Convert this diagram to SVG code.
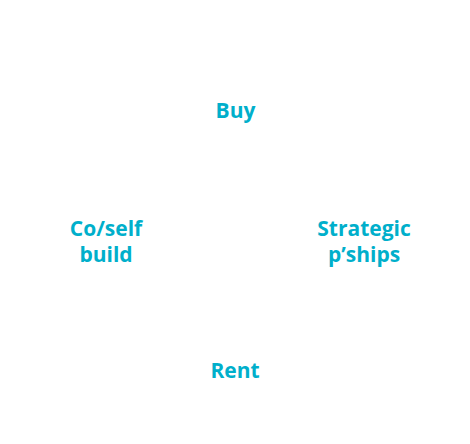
<svg xmlns="http://www.w3.org/2000/svg" width="470" height="444" viewBox="0 0 470 444">
<style>
.t{font-family:"Open Sans","Liberation Sans",sans-serif;font-weight:bold;font-size:21px;fill:#00AFCB;text-anchor:middle}
</style>
<rect width="470" height="444" fill="#fff"/>
<g id="buy"><text class="t" x="235.5" y="118">Buy</text></g>
<g id="coself"><text class="t" x="106" y="236">Co/self</text><text class="t" x="106" y="262">build</text></g>
<g id="strategic"><text class="t" x="364" y="236">Strategic</text><text class="t" x="364" y="262">p’ships</text></g>
<g id="rent"><text class="t" x="235" y="378">Rent</text></g>
<g id="connectors"></g>
</svg>
